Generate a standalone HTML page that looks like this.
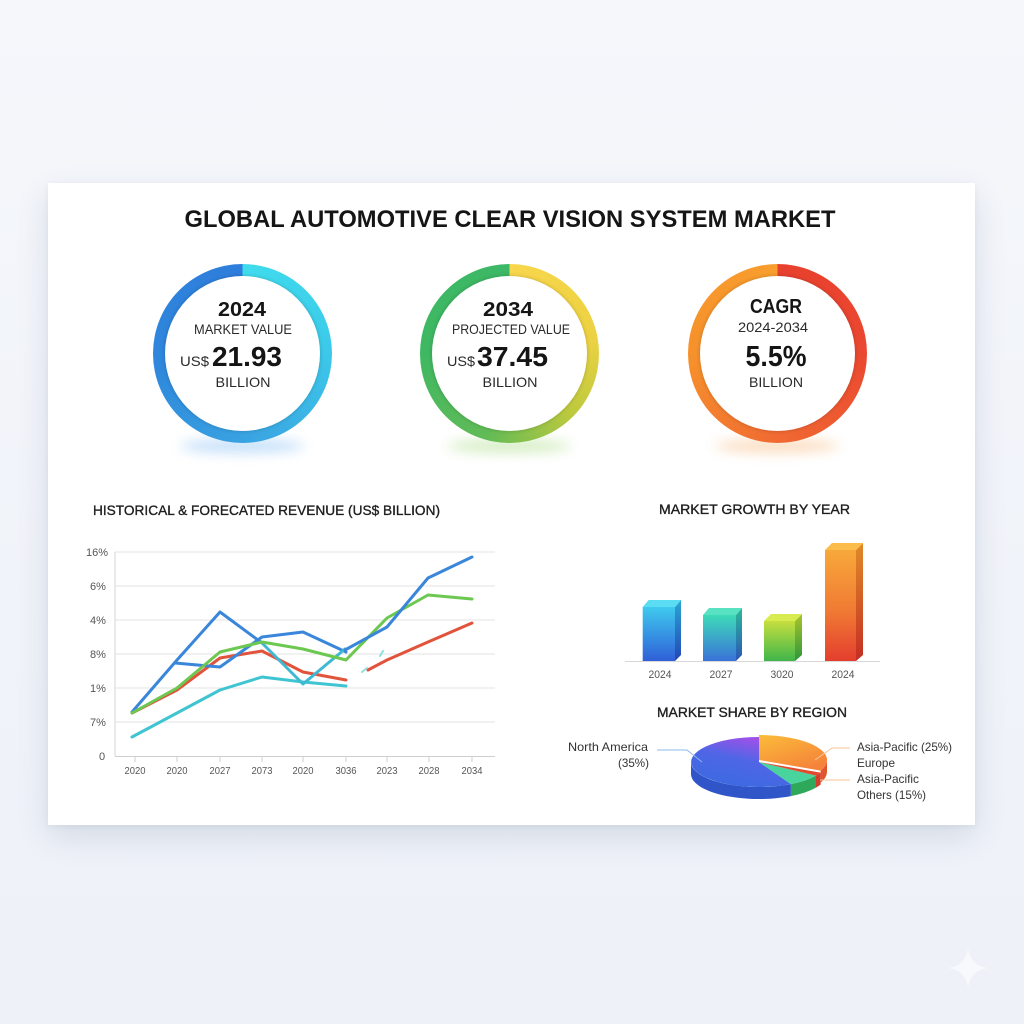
<!DOCTYPE html>
<html>
<head>
<meta charset="utf-8">
<style>
  html,body{margin:0;padding:0;}
  body{width:1024px;height:1024px;position:relative;overflow:hidden;
       background:linear-gradient(180deg,#f5f7fb 0%,#f0f3f9 60%,#eef2f8 100%);
       font-family:"Liberation Sans",sans-serif;}
  .card{position:absolute;left:48px;top:183px;width:927px;height:642px;background:#fff;
        box-shadow:0 12px 30px rgba(40,60,100,0.13),0 2px 6px rgba(40,60,100,0.06);}
  .ring{position:absolute;width:179px;height:179px;border-radius:50%;}
  .ring .in{position:absolute;left:12px;top:12px;width:155px;height:155px;border-radius:50%;background:#fff;
        box-shadow:0 0 4px rgba(0,0,0,0.2);}
  svg{position:absolute;left:0;top:0;}
</style>
</head>
<body>
<div class="card"></div>

<svg width="1024" height="1024" viewBox="0 0 1024 1024">
  <defs>
    <filter id="blur8" x="-50%" y="-200%" width="200%" height="500%"><feGaussianBlur stdDeviation="6"/></filter>
  </defs>
  <ellipse cx="242" cy="446" rx="62" ry="7" fill="#5aa8f0" opacity="0.35" filter="url(#blur8)"/>
  <ellipse cx="509" cy="446" rx="62" ry="7" fill="#8ccf5a" opacity="0.35" filter="url(#blur8)"/>
  <ellipse cx="777" cy="446" rx="62" ry="7" fill="#f5a050" opacity="0.35" filter="url(#blur8)"/>
  <!-- sparkle -->
  <path d="M968,948 Q970,966 988,968 Q970,970 968,988 Q966,970 948,968 Q966,966 968,948 Z" fill="#ffffff" opacity="0.55"/>
</svg>

<div class="ring" style="left:152.5px;top:263.5px;background:conic-gradient(from 0deg,#40dced 0deg,#3cccea 80deg,#3aa6e2 170deg,#2f88dc 260deg,#2e7ddc 359deg);"><div class="in"></div></div>
<div class="ring" style="left:419.5px;top:263.5px;background:conic-gradient(from 0deg,#f9d64c 0deg,#ecd242 80deg,#bcc93e 135deg,#62bb56 195deg,#3fb862 270deg,#3cb866 359deg);"><div class="in"></div></div>
<div class="ring" style="left:687.5px;top:263.5px;background:conic-gradient(from 0deg,#e8402e 0deg,#ea4830 90deg,#f06a32 180deg,#f6902c 265deg,#f89e2e 359deg);"><div class="in"></div></div>

<svg width="1024" height="1024" viewBox="0 0 1024 1024" font-family="Liberation Sans, sans-serif">
  <defs>
    <linearGradient id="b1" x1="0" y1="0" x2="0" y2="1"><stop offset="0" stop-color="#3fcaee"/><stop offset="1" stop-color="#2f5fd8"/></linearGradient>
    <linearGradient id="b1s" x1="0" y1="0" x2="0" y2="1"><stop offset="0" stop-color="#2aa6d4"/><stop offset="1" stop-color="#2446b4"/></linearGradient>
    <linearGradient id="b2" x1="0" y1="0" x2="0" y2="1"><stop offset="0" stop-color="#3edab8"/><stop offset="1" stop-color="#3a72d8"/></linearGradient>
    <linearGradient id="b2s" x1="0" y1="0" x2="0" y2="1"><stop offset="0" stop-color="#2cb898"/><stop offset="1" stop-color="#2a56b8"/></linearGradient>
    <linearGradient id="b3" x1="0" y1="0" x2="0" y2="1"><stop offset="0" stop-color="#c6df3e"/><stop offset="1" stop-color="#3fb54a"/></linearGradient>
    <linearGradient id="b3s" x1="0" y1="0" x2="0" y2="1"><stop offset="0" stop-color="#a8c42c"/><stop offset="1" stop-color="#2e963a"/></linearGradient>
    <linearGradient id="b4" x1="0" y1="0" x2="0" y2="1"><stop offset="0" stop-color="#f8a83a"/><stop offset="0.55" stop-color="#f07a34"/><stop offset="1" stop-color="#e43e2e"/></linearGradient>
    <linearGradient id="b4s" x1="0" y1="0" x2="0" y2="1"><stop offset="0" stop-color="#e08a28"/><stop offset="1" stop-color="#c42e22"/></linearGradient>
    <linearGradient id="pBlue" x1="0.25" y1="1" x2="0.7" y2="0"><stop offset="0" stop-color="#3a6ae0"/><stop offset="0.55" stop-color="#4f66e6"/><stop offset="1" stop-color="#a84ee8"/></linearGradient>
    <linearGradient id="pOr" x1="0" y1="0" x2="0.6" y2="1"><stop offset="0" stop-color="#fbbc3a"/><stop offset="1" stop-color="#f5843a"/></linearGradient>
  </defs>

  <!-- Title -->
  <text x="510" y="227" text-anchor="middle" font-size="24" font-weight="bold" fill="#151515" textLength="651" lengthAdjust="spacingAndGlyphs">GLOBAL AUTOMOTIVE CLEAR VISION SYSTEM MARKET</text>

  <!-- Circle 1 -->
  <text x="242" y="316" text-anchor="middle" font-size="20" font-weight="bold" fill="#151515" textLength="48" lengthAdjust="spacingAndGlyphs">2024</text>
  <text x="243" y="334" text-anchor="middle" font-size="14" fill="#2a2a2a" textLength="98" lengthAdjust="spacingAndGlyphs">MARKET VALUE</text>
  <text x="180" y="366" font-size="14" fill="#2a2a2a" textLength="29" lengthAdjust="spacingAndGlyphs">US$</text>
  <text x="212" y="366" font-size="28" font-weight="bold" fill="#151515" textLength="70" lengthAdjust="spacingAndGlyphs">21.93</text>
  <text x="243" y="387" text-anchor="middle" font-size="14" fill="#2a2a2a" textLength="55" lengthAdjust="spacingAndGlyphs">BILLION</text>

  <!-- Circle 2 -->
  <text x="508" y="316" text-anchor="middle" font-size="20" font-weight="bold" fill="#151515" textLength="50" lengthAdjust="spacingAndGlyphs">2034</text>
  <text x="511" y="334" text-anchor="middle" font-size="14" fill="#2a2a2a" textLength="118" lengthAdjust="spacingAndGlyphs">PROJECTED VALUE</text>
  <text x="447" y="366" font-size="14" fill="#2a2a2a" textLength="28" lengthAdjust="spacingAndGlyphs">US$</text>
  <text x="477" y="366" font-size="28" font-weight="bold" fill="#151515" textLength="71" lengthAdjust="spacingAndGlyphs">37.45</text>
  <text x="510" y="387" text-anchor="middle" font-size="14" fill="#2a2a2a" textLength="55" lengthAdjust="spacingAndGlyphs">BILLION</text>

  <!-- Circle 3 -->
  <text x="776" y="313" text-anchor="middle" font-size="20" font-weight="bold" fill="#151515" textLength="52" lengthAdjust="spacingAndGlyphs">CAGR</text>
  <text x="773" y="332" text-anchor="middle" font-size="14" fill="#2a2a2a" textLength="70" lengthAdjust="spacingAndGlyphs">2024-2034</text>
  <text x="776" y="366" text-anchor="middle" font-size="29" font-weight="bold" fill="#151515" textLength="61" lengthAdjust="spacingAndGlyphs">5.5%</text>
  <text x="776" y="387" text-anchor="middle" font-size="14" fill="#2a2a2a" textLength="54" lengthAdjust="spacingAndGlyphs">BILLION</text>

  <!-- Section headings -->
  <text x="93" y="515" font-size="14" fill="#1e1e1e" stroke="#1e1e1e" stroke-width="0.35" textLength="347" lengthAdjust="spacingAndGlyphs">HISTORICAL &amp; FORECATED REVENUE (US$ BILLION)</text>
  <text x="659" y="514" font-size="14" fill="#1e1e1e" stroke="#1e1e1e" stroke-width="0.35" textLength="191" lengthAdjust="spacingAndGlyphs">MARKET GROWTH BY YEAR</text>
  <text x="657" y="717" font-size="14" fill="#1e1e1e" stroke="#1e1e1e" stroke-width="0.35" textLength="190" lengthAdjust="spacingAndGlyphs">MARKET SHARE BY REGION</text>

  <!-- Line chart grid -->
  <g stroke="#e3e3e3" stroke-width="1">
    <line x1="115" y1="552" x2="495" y2="552"/>
    <line x1="115" y1="586" x2="495" y2="586"/>
    <line x1="115" y1="620" x2="495" y2="620"/>
    <line x1="115" y1="654" x2="495" y2="654"/>
    <line x1="115" y1="688" x2="495" y2="688"/>
    <line x1="115" y1="722" x2="495" y2="722"/>
  </g>
  <line x1="115" y1="552" x2="115" y2="756" stroke="#d6d6d6" stroke-width="1"/>
  <line x1="115" y1="756.5" x2="495" y2="756.5" stroke="#cfcfcf" stroke-width="1"/>
  <g stroke="#cfcfcf" stroke-width="1">
    <line x1="135" y1="756" x2="135" y2="762"/><line x1="177" y1="756" x2="177" y2="762"/>
    <line x1="220" y1="756" x2="220" y2="762"/><line x1="262" y1="756" x2="262" y2="762"/>
    <line x1="303" y1="756" x2="303" y2="762"/><line x1="346" y1="756" x2="346" y2="762"/>
    <line x1="387" y1="756" x2="387" y2="762"/><line x1="429" y1="756" x2="429" y2="762"/>
    <line x1="472" y1="756" x2="472" y2="762"/>
  </g>
  <g font-size="11" fill="#555">
    <text x="86" y="556">16%</text>
    <text x="90" y="590">6%</text>
    <text x="90" y="624">4%</text>
    <text x="90" y="658">8%</text>
    <text x="90" y="692">1%</text>
    <text x="90" y="726">7%</text>
    <text x="99" y="760">0</text>
  </g>
  <g font-size="10.5" fill="#555" text-anchor="middle">
    <text x="135" y="774" textLength="21" lengthAdjust="spacingAndGlyphs">2020</text>
    <text x="177" y="774" textLength="21" lengthAdjust="spacingAndGlyphs">2020</text>
    <text x="220" y="774" textLength="21" lengthAdjust="spacingAndGlyphs">2027</text>
    <text x="262" y="774" textLength="21" lengthAdjust="spacingAndGlyphs">2073</text>
    <text x="303" y="774" textLength="21" lengthAdjust="spacingAndGlyphs">2020</text>
    <text x="346" y="774" textLength="21" lengthAdjust="spacingAndGlyphs">3036</text>
    <text x="387" y="774" textLength="21" lengthAdjust="spacingAndGlyphs">2023</text>
    <text x="429" y="774" textLength="21" lengthAdjust="spacingAndGlyphs">2028</text>
    <text x="472" y="774" textLength="21" lengthAdjust="spacingAndGlyphs">2034</text>
  </g>

  <!-- Series -->
  <g fill="none" stroke-width="3" stroke-linejoin="round" stroke-linecap="round">
    <polyline points="132,737 177,713 220,690 262,677 303,682 346,686" stroke="#3fc5d2"/>
    <polyline points="132,713 177,690 220,658 262,651 303,672 346,680" stroke="#e2533c"/>
    <polyline points="368,670 387,660 428,642 472,623" stroke="#e2533c"/>
    <polyline points="175,663 220,667 262,637 303,632 346,652" stroke="#3a86da"/>
    <polyline points="132,712 177,660 220,612 262,643" stroke="#3a86da"/>
    <polyline points="262,643 303,684 345,649" stroke="#3fb8d2"/>
    <polyline points="132,713 177,688 220,652 262,642 303,649 346,660 387,618 428,595 472,599" stroke="#6cc850"/>
    <polyline points="345,650 387,627 428,578 472,557" stroke="#3a86da"/>
    <line x1="362" y1="672" x2="367" y2="668" stroke="#8ee0e0" stroke-width="2"/>
    <line x1="380" y1="656" x2="383" y2="651" stroke="#8ee0e0" stroke-width="2"/>
  </g>

  <!-- Bar chart -->
  <line x1="625" y1="661.5" x2="880" y2="661.5" stroke="#d8d8d8" stroke-width="1"/>
  <rect x="642.7" y="607" width="32.3" height="54" fill="url(#b1)"/>
  <polygon points="675,607 681,600 681,655 675,661" fill="url(#b1s)"/>
  <polygon points="642.7,607 648.7,600 681,600 675,607" fill="#5adcf2"/>
  <rect x="703" y="615" width="33" height="46" fill="url(#b2)"/>
  <polygon points="736,615 742,608 742,655 736,661" fill="url(#b2s)"/>
  <polygon points="703,615 709,608 742,608 736,615" fill="#58e2c2"/>
  <rect x="764" y="621" width="31" height="40" fill="url(#b3)"/>
  <polygon points="795,621 802,614 802,655 795,661" fill="url(#b3s)"/>
  <polygon points="764,621 771,614 802,614 795,621" fill="#d8ec52"/>
  <rect x="825" y="550" width="31" height="111" fill="url(#b4)"/>
  <polygon points="856,550 863,543 863,655 856,661" fill="url(#b4s)"/>
  <polygon points="825,550 832,543 863,543 856,550" fill="#fbbc4c"/>
  <g font-size="11" fill="#555" text-anchor="middle">
    <text x="660" y="678" textLength="23" lengthAdjust="spacingAndGlyphs">2024</text>
    <text x="721" y="678" textLength="23" lengthAdjust="spacingAndGlyphs">2027</text>
    <text x="782" y="678" textLength="23" lengthAdjust="spacingAndGlyphs">3020</text>
    <text x="843" y="678" textLength="23" lengthAdjust="spacingAndGlyphs">2024</text>
  </g>

  <!-- Pie chart -->
  <path d="M790.9,784.1 A68,25 0 0 1 691,762 L691,774 A68,25 0 0 0 790.9,796.1 Z" fill="#2f55c8"/>
  <path d="M816,775.6 A68,25 0 0 1 790.9,784.1 L790.9,796.1 A68,25 0 0 0 816,787.6 Z" fill="#2ea85a"/>
  <path d="M820.6,772.6 A68,25 0 0 1 816,775.6 L816,787.6 A68,25 0 0 0 820.6,784.6 Z" fill="#d43c2c"/>
  <path d="M827,760 A68,25 0 0 1 820.6,770.6 L820.6,782.6 A68,25 0 0 0 827,772 Z" fill="#e0562c"/>
  <path d="M759,762 L790.9,784.1 A68,25 0 1 1 759,737 Z" fill="url(#pBlue)"/>
  <path d="M759,762 L816,775.6 A68,25 0 0 1 790.9,784.1 Z" fill="#48d49c"/>
  <path d="M759,762 L820.6,772.6 A68,25 0 0 1 816,775.6 Z" fill="#e24a30"/>
  <path d="M759,760 L759,735 A68,25 0 0 1 820.6,770.6 Z" fill="url(#pOr)"/>

  <polyline points="657,750 687,750 702,762" fill="none" stroke="#8ab8e8" stroke-width="1"/>
  <polyline points="815,760 832,748 850,748" fill="none" stroke="#f5c496" stroke-width="1"/>
  <polyline points="820,780 850,780" fill="none" stroke="#f5c496" stroke-width="1"/>

  <g font-size="12" fill="#333">
    <text x="648" y="751" text-anchor="end" textLength="80" lengthAdjust="spacingAndGlyphs">North America</text>
    <text x="649" y="767" text-anchor="end" textLength="31" lengthAdjust="spacingAndGlyphs">(35%)</text>
    <text x="857" y="751" textLength="95" lengthAdjust="spacingAndGlyphs">Asia-Pacific (25%)</text>
    <text x="857" y="767" textLength="38" lengthAdjust="spacingAndGlyphs">Europe</text>
    <text x="857" y="783" textLength="62" lengthAdjust="spacingAndGlyphs">Asia-Pacific</text>
    <text x="857" y="799" textLength="69" lengthAdjust="spacingAndGlyphs">Others (15%)</text>
  </g>
</svg>
</body>
</html>
